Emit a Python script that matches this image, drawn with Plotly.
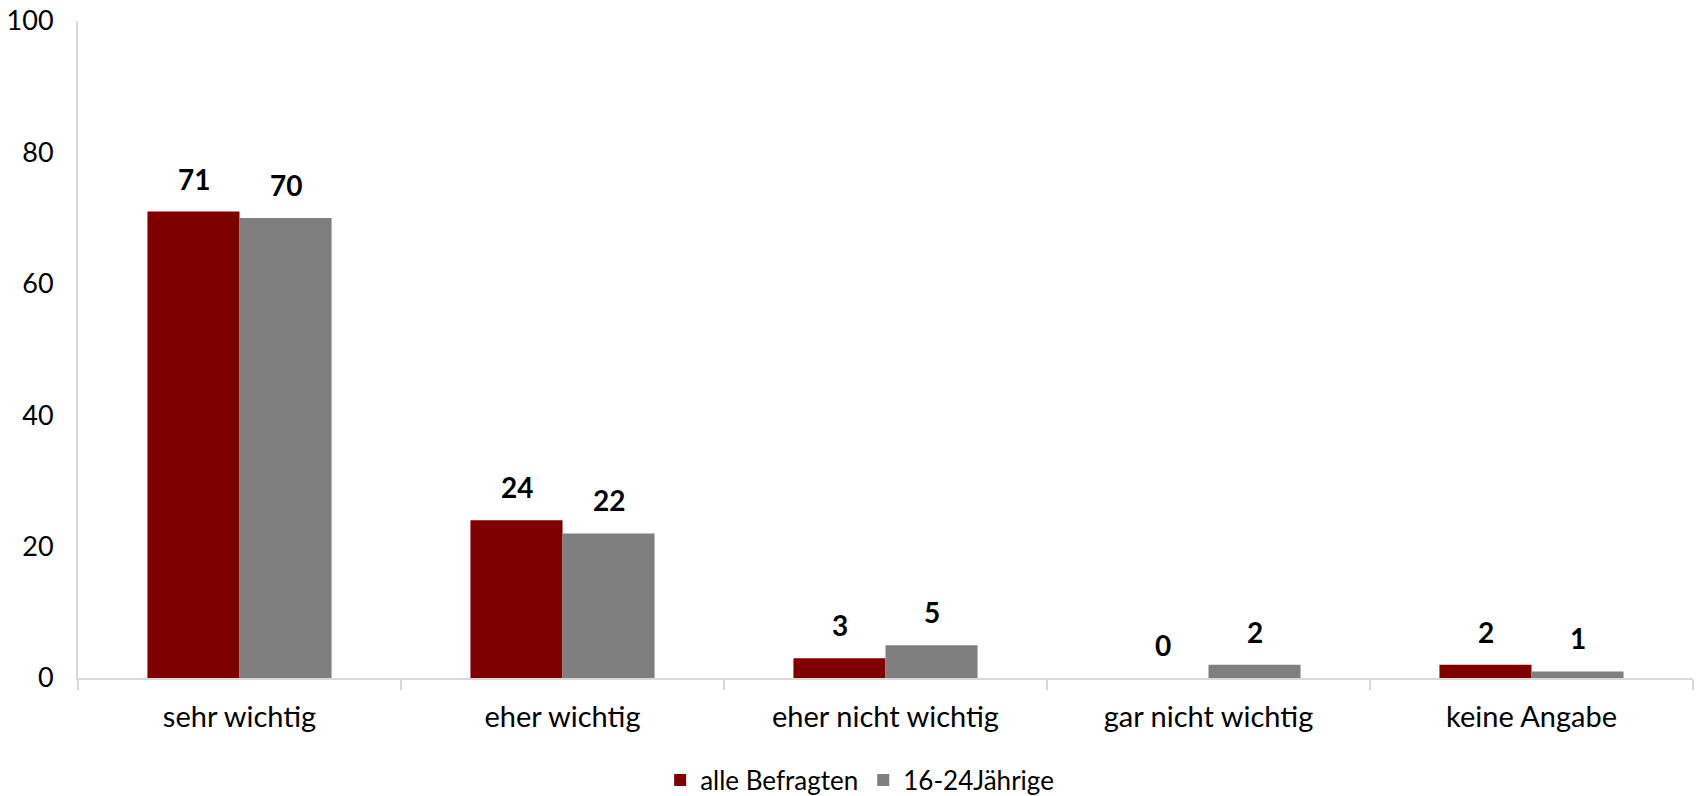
import plotly.graph_objects as go

categories = ["sehr wichtig", "eher wichtig", "eher nicht wichtig", "gar nicht wichtig", "keine Angabe"]
alle_befragten = [71, 24, 3, 0, 2]
jaehrige_16_24 = [70, 22, 5, 2, 1]
series_names = ["alle Befragten", "16-24Jährige"]
colors = ["#7f0000", "#7f7f7f"]
y_ticks = [0, 20, 40, 60, 80, 100]

FONT = "Lato"

fig = go.Figure()
for name, vals, col in zip(series_names, [alle_befragten, jaehrige_16_24], colors):
    fig.add_trace(go.Bar(
        x=categories, y=vals, name=name,
        marker=dict(color=col, line=dict(width=0)),
    ))

# data labels above bars
bar_px = 92
for i, (vals, shift) in enumerate([(alle_befragten, -bar_px / 2), (jaehrige_16_24, bar_px / 2)]):
    for c, v in zip(categories, vals):
        fig.add_annotation(
            x=c, y=v, text=f"<b>{v}</b>", showarrow=False,
            xshift=shift, yshift=14, yanchor="bottom",
            font=dict(family=FONT, size=28, color="#000000"),
        )

fig.update_layout(
    width=1696, height=796,
    paper_bgcolor="white", plot_bgcolor="white",
    margin=dict(l=78, r=3, t=21, b=118, autoexpand=False),
    barmode="group", bargap=0.43, bargroupgap=0,
    font=dict(family=FONT, color="#000000"),
    legend=dict(
        orientation="h", x=0.484, xanchor="center",
        yref="container", y=0.02, yanchor="middle",
        font=dict(family=FONT, size=26, color="#000000"),
        traceorder="normal",
    ),
    showlegend=True,
)
fig.update_xaxes(
    showline=True, linecolor="#d9d9d9", linewidth=2,
    ticks="outside", tickson="boundaries", ticklen=10, tickcolor="#d9d9d9", tickwidth=2,
    tickfont=dict(family=FONT, size=29, color="#000000"),
    ticklabelstandoff=12, automargin=False,
    showgrid=False,
)
fig.update_yaxes(
    range=[0, 100], tickvals=y_ticks, showline=True, linecolor="#d9d9d9", linewidth=2,
    showgrid=False, zeroline=False, ticks="", ticklabelstandoff=17, automargin=False,
    tickfont=dict(family=FONT, size=27, color="#000000"),
)

fig.write_html(
    "out.html",
    config={"displayModeBar": False},
    post_script="document.body.style.margin='0';document.body.style.overflow='hidden';",
)
